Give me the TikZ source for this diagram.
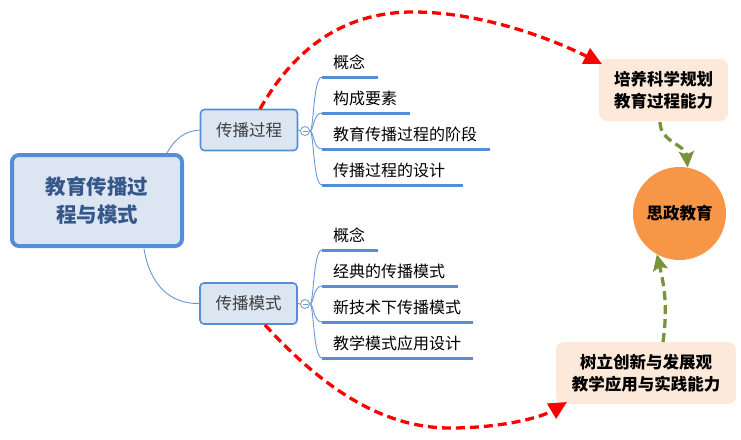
\documentclass[tikz,border=0pt]{standalone}
\usepackage{fontspec}
\setmainfont{Noto Sans CJK SC}
\usetikzlibrary{arrows.meta}
\definecolor{mainblue}{HTML}{558ED5}
\definecolor{nodefill}{HTML}{DCE6F2}
\definecolor{maintext}{HTML}{35578A}
\definecolor{thinblue}{HTML}{6A96D6}
\definecolor{peach}{HTML}{FDE9D9}
\definecolor{orangec}{HTML}{F79646}
\definecolor{greenarr}{HTML}{77933C}
\definecolor{subtext}{HTML}{3C3C3C}
\tikzset{
  mainbox/.style={draw=mainblue, line width=4pt, fill=nodefill, rounded corners=7pt,
    minimum width=170pt, minimum height=91pt, align=center, text=maintext,
    font=\bfseries\fontsize{20.5}{28}\selectfont},
  branchbox/.style={draw=mainblue, line width=1.6pt, fill=nodefill, rounded corners=4pt,
    minimum width=97pt, minimum height=41pt, text=subtext, font=\fontsize{16.5}{20}\selectfont},
  leaf/.style={anchor=west, inner sep=0pt, text=black, font=\fontsize{16}{18}\selectfont},
  uline/.style={draw=mainblue, line width=3pt},
  twig/.style={draw=thinblue, line width=0.9pt},
  toggle/.style={circle, draw=thinblue, line width=0.8pt, fill=white, minimum size=9pt, inner sep=0pt},
  goalbox/.style={fill=peach, rounded corners=8pt, align=center, text=black,
    font=\bfseries\fontsize{16.5}{22}\selectfont},
  redarr/.style={draw=red, line width=3.3pt, dash pattern=on 9pt off 5pt,
    -{Triangle[length=18pt,width=17pt]}},
  greenarrow/.style={draw=greenarr, line width=3.3pt, dash pattern=on 9pt off 5pt,
    -{Stealth[length=16pt,width=15pt,inset=3pt]}}
}
\begin{document}
\begin{tikzpicture}[x=1pt,y=-1pt]
\useasboundingbox (0,0) rectangle (741,439);

% main node
\node[mainbox] (main) at (97,200.5) {教育传播过\\程与模式};

% branch nodes
\node[branchbox] (p) at (249,130) {传播过程};
\node[branchbox] (m) at (248.5,303.5) {传播模式};

% main to branch curves
\coordinate (mt) at (167,153);
\coordinate (mb) at (144,249);
\draw[twig] (mt) .. controls (176,137) and (186,131) .. (p.west);
\draw[twig] (mb) .. controls (150,285) and (170,304) .. (m.west);

% toggles
\node[toggle] (tp) at (305,131) {};
\node[toggle] (tm) at (305,304) {};
\draw[thinblue, line width=0.8pt] (302.5,131) -- (307.5,131);
\draw[thinblue, line width=0.8pt] (302.5,304) -- (307.5,304);
\draw[twig] (p.east) -- (tp.west);
\draw[twig] (m.east) -- (tm.west);

% top leaves
\foreach \n/\y/\xe/\t in {a/77/378/概念, b/113/410/构成要素, c/149/490/教育传播过程的阶段, d/185/463/传播过程的设计}{
  \coordinate (s\n) at (322,\y);
  \coordinate (e\n) at (\xe,\y);
  \draw[uline] (s\n) -- (e\n);
  \draw[twig] (tp.east) .. controls (314,131) and (313,\y) .. (s\n);
  \node[leaf] (l\n) at (333,\y-15) {\t};
}
% bottom leaves
\foreach \n/\y/\xe/\t in {f/250/378/概念, g/286/458/经典的传播模式, h/322/473/新技术下传播模式, i/358/473/教学模式应用设计}{
  \coordinate (s\n) at (322,\y);
  \coordinate (e\n) at (\xe,\y);
  \draw[uline] (s\n) -- (e\n);
  \draw[twig] (tm.east) .. controls (314,304) and (313,\y) .. (s\n);
  \node[leaf] (l\n) at (333,\y-15) {\t};
}

% goals
\node[goalbox, minimum width=129pt, minimum height=62pt] (g1) at (663.5,90) {培养科学规划\\教育过程能力};
\node[goalbox, minimum width=180pt, minimum height=62pt] (g2) at (646,373) {树立创新与发展观\\教学应用与实践能力};
\node[circle, fill=orangec, minimum size=93pt, inner sep=0pt, font=\bfseries\fontsize{16.5}{20}\selectfont] (sz) at (679.5,213.5) {思政教育};

% red arrows
\coordinate (rt0) at (260,109);
\coordinate (rtm) at (413,12);
\coordinate (rb0) at (265,325);
\coordinate (rbm) at (450,428);
\coordinate (g1t) at (602,64);
\coordinate (g2t) at (567,402);
\draw[redarr] (rt0) .. controls (298,42) and (350,12) .. (rtm) .. controls (480,12) and (550,38) .. (g1t);
\draw[redarr] (rb0) .. controls (320,385) and (380,428) .. (rbm) .. controls (500,428) and (540,418) .. (g2t);

% green arrows
\coordinate (gt0) at (660,122);
\coordinate (gb0) at (663,342);
\draw[greenarrow] (gt0) .. controls (660,142) and (686,145) .. (sz.80);
\draw[greenarrow] (gb0) .. controls (668,305) and (664,285) .. (sz.-119);
\end{tikzpicture}
\end{document}
